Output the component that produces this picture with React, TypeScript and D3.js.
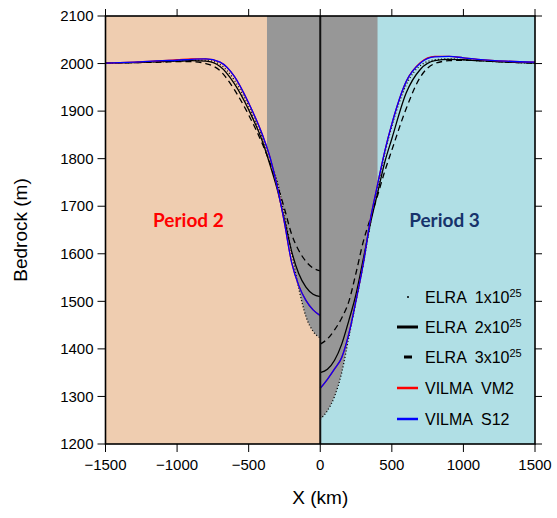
import React from "react";
import * as d3 from "d3";

// ---- data (km, m) ----
const leftX = [-1500, -1300, -1100, -1000, -900, -800, -700, -600, -500, -400, -350, -300, -250, -200, -150, -100, -50, 0];
const leftElra1 = [2001, 2002, 2004, 2005, 2007, 2007, 1998, 1965, 1910, 1840, 1797, 1752, 1681, 1602, 1527, 1468, 1437, 1423];
const leftElra2 = [2001, 2002, 2004, 2005, 2006, 2005, 1994, 1958, 1903, 1833, 1786, 1735, 1672, 1605, 1558, 1530, 1515, 1510];
const leftElra3 = [2001, 2002, 2003, 2004, 2004, 2000, 1985, 1945, 1892, 1828, 1790, 1745, 1695, 1641, 1607, 1584, 1570, 1564];
const leftVM2 = [2001, 2003, 2006, 2008, 2010, 2010, 2003, 1973, 1917, 1847, 1802, 1740, 1665, 1582, 1533, 1502, 1482, 1470];
const leftS12 = [2001, 2003, 2006, 2007, 2009, 2010, 2003, 1973, 1917, 1847, 1802, 1740, 1665, 1582, 1533, 1502, 1482, 1470];

const rightX = [0, 50, 100, 150, 200, 250, 300, 350, 400, 450, 500, 600, 700, 800, 900, 1000, 1100, 1300, 1500];
const rightElra1 = [1252, 1270, 1300, 1350, 1425, 1500, 1577, 1663, 1738, 1810, 1868, 1955, 1996, 2008, 2010, 2008, 2006, 2003, 2001];
const rightElra2 = [1350, 1357, 1376, 1410, 1460, 1515, 1588, 1663, 1727, 1792, 1842, 1938, 1988, 2006, 2009, 2008, 2006, 2003, 2001];
const rightElra3 = [1410, 1421, 1440, 1465, 1500, 1560, 1625, 1674, 1722, 1773, 1818, 1905, 1972, 2000, 2006, 2007, 2006, 2003, 2001];
const rightVM2 = [1317, 1336, 1358, 1382, 1432, 1502, 1578, 1672, 1745, 1815, 1873, 1962, 2002, 2015, 2015, 2012, 2009, 2005, 2003];
const rightS12 = [1317, 1336, 1358, 1382, 1432, 1502, 1578, 1672, 1745, 1815, 1873, 1962, 2001, 2014, 2015, 2012, 2009, 2005, 2003];

const bandLeft = -372;
const bandRight = 400;

const xTicks = [-1500, -1000, -500, 0, 500, 1000, 1500];
const yTicks = [1200, 1300, 1400, 1500, 1600, 1700, 1800, 1900, 2000, 2100];

const legendItems = [
  { label: "ELRA  1x10", sup: "25", kind: "dot" },
  { label: "ELRA  2x10", sup: "25", kind: "solid" },
  { label: "ELRA  3x10", sup: "25", kind: "dash" },
  { label: "VILMA  VM2", sup: "", kind: "red" },
  { label: "VILMA  S12", sup: "", kind: "blue" },
];

const W = 557;
const H = 518;
const M = { left: 105.5, right: 535, top: 16, bottom: 444 };

export default function App() {
  const x = d3.scaleLinear().domain([-1500, 1500]).range([M.left, M.right]);
  const y = d3.scaleLinear().domain([1200, 2100]).range([M.bottom, M.top]);
  const line = d3
    .line<[number, number]>()
    .x((d) => x(d[0]))
    .y((d) => y(d[1]))
    .curve(d3.curveMonotoneX);
  const area = d3
    .area<[number, number]>()
    .x((d) => x(d[0]))
    .y0(y(2100))
    .y1((d) => y(d[1]))
    .curve(d3.curveMonotoneX);
  const zip = (xs: number[], ys: number[]) => xs.map((v, i) => [v, ys[i]] as [number, number]);

  const series = [
    { l: leftElra1, r: rightElra1, stroke: "#000", w: 1.3, dash: "1,2.2" },
    { l: leftElra3, r: rightElra3, stroke: "#000", w: 1.3, dash: "6,4" },
    { l: leftElra2, r: rightElra2, stroke: "#000", w: 1.3, dash: "" },
    { l: leftVM2, r: rightVM2, stroke: "#ff0000", w: 1.3, dash: "" },
    { l: leftS12, r: rightS12, stroke: "#0000ff", w: 1.3, dash: "" },
  ];

  const font = "'Liberation Sans', Arial, Helvetica, sans-serif";
  const lx = 397;
  const legendY = [297, 327, 357, 388, 419];

  return (
    <svg width={W} height={H} style={{ position: "absolute", left: 0, top: 0 }} fontFamily={font}>
      <defs>
        <clipPath id="band">
          <rect x={x(bandLeft)} y={M.top} width={x(bandRight) - x(bandLeft)} height={M.bottom - M.top} />
        </clipPath>
        <clipPath id="plot">
          <rect x={M.left} y={M.top} width={M.right - M.left} height={M.bottom - M.top} />
        </clipPath>
      </defs>
      <rect width={W} height={H} fill="#fff" />
      <rect x={x(-1500)} y={M.top} width={x(0) - x(-1500)} height={M.bottom - M.top} fill="#efcdb0" />
      <rect x={x(0)} y={M.top} width={x(1500) - x(0)} height={M.bottom - M.top} fill="#b0dfe5" />
      <g clipPath="url(#band)">
        <path d={area(zip(leftX, leftElra1)) || ""} fill="#979797" />
        <path d={area(zip(rightX, rightElra1)) || ""} fill="#979797" />
      </g>
      <g clipPath="url(#plot)" fill="none">
        {series.map((s, i) => (
          <g key={i}>
            <path d={line(zip(leftX, s.l)) || ""} stroke={s.stroke} strokeWidth={s.w} strokeDasharray={s.dash || undefined} />
            <path d={line(zip(rightX, s.r)) || ""} stroke={s.stroke} strokeWidth={s.w} strokeDasharray={s.dash || undefined} />
          </g>
        ))}
      </g>
      <line x1={x(0)} x2={x(0)} y1={M.top} y2={M.bottom} stroke="#111" strokeWidth={2} />
      <rect x={M.left} y={M.top} width={M.right - M.left} height={M.bottom - M.top} fill="none" stroke="#000" strokeWidth={1.6} />
      {/* ticks */}
      {xTicks.map((t) => (
        <g key={"x" + t}>
          <line x1={x(t)} x2={x(t)} y1={M.bottom} y2={M.bottom + 8} stroke="#000" strokeWidth={1} />
          <line x1={x(t)} x2={x(t)} y1={M.top} y2={M.top - 7} stroke="#000" strokeWidth={1} />
          <text x={x(t)} y={M.bottom + 26} textAnchor="middle" fontSize={15} fill="#000">
            {t < 0 ? "\u2212" + Math.abs(t) : String(t)}
          </text>
        </g>
      ))}
      {yTicks.map((t) => (
        <g key={"y" + t}>
          <line x1={M.left - 8} x2={M.left} y1={y(t)} y2={y(t)} stroke="#000" strokeWidth={1} />
          <line x1={M.right} x2={M.right + 7} y1={y(t)} y2={y(t)} stroke="#000" strokeWidth={1} />
          <text x={M.left - 12} y={y(t)} dy="0.35em" textAnchor="end" fontSize={15} fill="#000">
            {t}
          </text>
        </g>
      ))}
      <text x={x(0)} y={504} textAnchor="middle" fontSize={19} fill="#000">
        X (km)
      </text>
      <text transform={`translate(27,${(M.top + M.bottom) / 2}) rotate(-90)`} textAnchor="middle" fontSize={19} fill="#000">
        Bedrock (m)
      </text>
      <text x={x(-921)} y={227} textAnchor="middle" fontSize={19} fontWeight={700} fontFamily="Lato, sans-serif" fill="#ff0000">
        Period 2
      </text>
      <text x={x(868)} y={227} textAnchor="middle" fontSize={19} fontWeight={700} fontFamily="Lato, sans-serif" fill="#17336b">
        Period 3
      </text>
      {/* legend */}
      {legendItems.map((it, i) => {
        const cy = legendY[i];
        let sym: React.ReactNode = null;
        if (it.kind === "dot") sym = <circle cx={lx + 11} cy={cy} r={1} fill="#000" />;
        else if (it.kind === "solid") sym = <line x1={lx} x2={lx + 21} y1={cy} y2={cy} stroke="#000" strokeWidth={3} />;
        else if (it.kind === "dash") sym = <line x1={lx + 7} x2={lx + 15} y1={cy} y2={cy} stroke="#000" strokeWidth={3} />;
        else if (it.kind === "red") sym = <line x1={lx} x2={lx + 21} y1={cy} y2={cy} stroke="#ff0000" strokeWidth={2.5} />;
        else sym = <line x1={lx} x2={lx + 21} y1={cy} y2={cy} stroke="#0000ff" strokeWidth={2.5} />;
        return (
          <g key={i}>
            {sym}
            <text x={lx + 28} y={cy} dy="0.35em" fontSize={16} fill="#000" style={{ whiteSpace: "pre" }}>
              {it.label}
              {it.sup ? (
                <tspan dy={-6} fontSize={11}>
                  {it.sup}
                </tspan>
              ) : null}
            </text>
          </g>
        );
      })}
    </svg>
  );
}
